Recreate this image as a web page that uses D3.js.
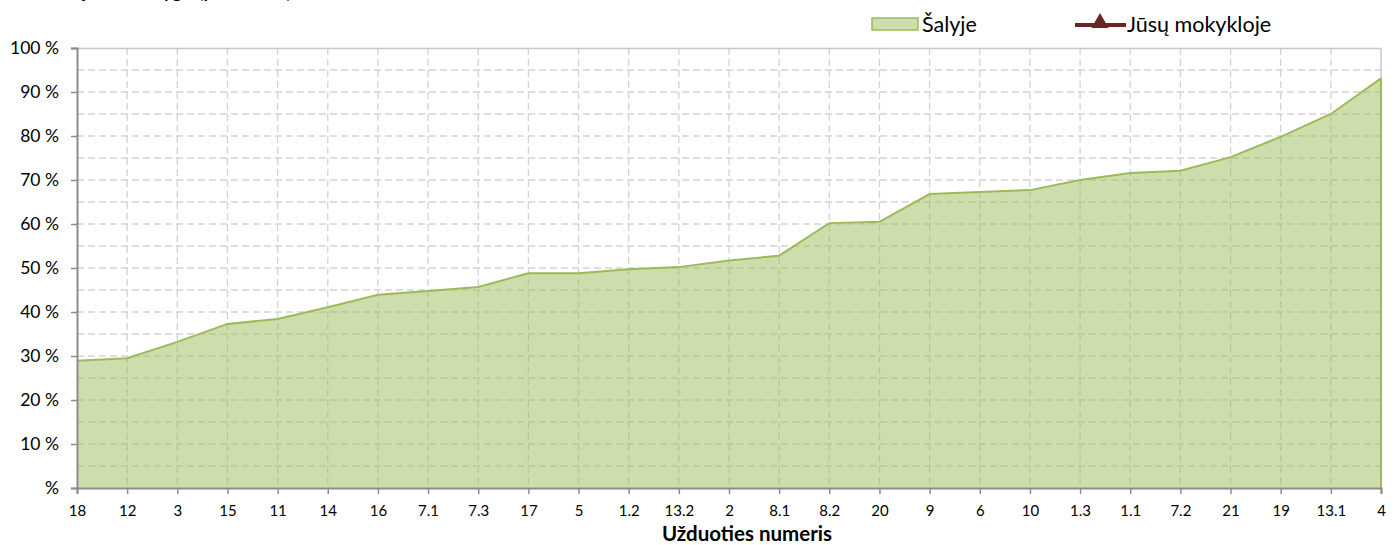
<!DOCTYPE html>
<html>
<head>
<meta charset="utf-8">
<script src="https://cdn.jsdelivr.net/npm/d3@7"></script>
<style>
  body { margin: 0; background: #fff; }
  svg { display: block; font-family: Lato, "Open Sans", sans-serif; }
</style>
</head>
<body>
<svg id="chart" width="1395" height="545"></svg>
<script>
// task numbers, sorted by country result
const categories = ["18", "12", "3", "15", "11", "14", "16", "7.1", "7.3", "17", "5", "1.2", "13.2", "2",
  "8.1", "8.2", "20", "9", "6", "10", "1.3", "1.1", "7.2", "21", "19", "13.1", "4"];
// Šalyje (country), percent
const countryValues = [28.9, 29.5, 33.2, 37.3, 38.4, 41.1, 43.9, 44.8, 45.7, 48.8, 48.8, 49.7, 50.2, 51.7,
  52.8, 60.2, 60.5, 66.8, 67.3, 67.7, 70.0, 71.6, 72.1, 75.2, 79.8, 85.0, 93.1];
// Jūsų mokykloje (your school) - no values in the picture
const schoolValues = [];
const yTicks = [0, 10, 20, 30, 40, 50, 60, 70, 80, 90, 100];
const legendLabels = ["Šalyje", "Jūsų mokykloje"];

const width = 1395, height = 545;
const margin = { top: 48, right: 14, bottom: 57, left: 77 };
const innerW = width - margin.left - margin.right;
const innerH = height - margin.top - margin.bottom;
const font = "Lato, 'Open Sans', sans-serif";

const svg = d3.select("#chart");

// title, mostly cut off above the picture
svg.append("text")
  .attr("x", 10).attr("y", -2)
  .attr("font-size", 18).attr("font-weight", "bold")
  .attr("fill", "#000")
  .text("Užduočių atlikimo lygis (procentais)");

const g = svg.append("g").attr("transform", `translate(${margin.left},${margin.top})`);

const x = d3.scalePoint().domain(categories).range([0, innerW]);
const y = d3.scaleLinear().domain([0, 100]).range([innerH, 0]);

// dashed grid every 5 %
const grid = g.append("g").attr("stroke", "#d3d3d3").attr("stroke-width", 1.3).attr("stroke-dasharray", "7,4");
grid.selectAll("line.h")
  .data(d3.range(5, 100, 5))
  .join("line")
    .attr("class", "h")
    .attr("x1", 0).attr("x2", innerW)
    .attr("y1", d => y(d)).attr("y2", d => y(d));
grid.selectAll("line.v")
  .data(categories.slice(1, -1))
  .join("line")
    .attr("class", "v")
    .attr("x1", d => x(d)).attr("x2", d => x(d))
    .attr("y1", 0).attr("y2", innerH);

// plot border top/right
g.append("path")
  .attr("d", `M0,0.5H${innerW}V${innerH}`)
  .attr("fill", "none").attr("stroke", "#c8c8c8").attr("stroke-width", 1.5);

// area for country
const area = d3.area()
  .x((d, i) => x(categories[i]))
  .y0(innerH)
  .y1(d => y(d));
const line = d3.line()
  .x((d, i) => x(categories[i]))
  .y(d => y(d));

g.append("path")
  .datum(countryValues)
  .attr("d", area)
  .attr("fill", "#9bbb59")
  .attr("fill-opacity", 0.5);
g.append("path")
  .datum(countryValues)
  .attr("d", line)
  .attr("fill", "none")
  .attr("stroke", "#9bbb59")
  .attr("stroke-width", 2);
g.append("line")
  .attr("x1", innerW).attr("x2", innerW)
  .attr("y1", y(countryValues[countryValues.length - 1])).attr("y2", innerH)
  .attr("stroke", "#9bbb59").attr("stroke-width", 2);

// school series (empty)
g.append("path")
  .datum(schoolValues)
  .attr("d", line)
  .attr("fill", "none")
  .attr("stroke", "#6b2525")
  .attr("stroke-width", 3);

// y axis
const yAxis = d3.axisLeft(y).tickValues(yTicks).tickSize(6).tickPadding(12)
  .tickFormat(d => d === 0 ? "%" : `${d} %`);
const yg = g.append("g").call(yAxis).attr("font-family", font);
yg.select(".domain").attr("stroke", "#8c8c8c").attr("stroke-width", 2);
yg.selectAll(".tick line").attr("stroke", "#8c8c8c").attr("stroke-width", 1.5);
yg.selectAll(".tick text").attr("font-size", 17.5).attr("fill", "#000");

// x axis
const xAxis = d3.axisBottom(x).tickSize(6).tickPadding(11);
const xg = g.append("g").attr("transform", `translate(0,${innerH})`).call(xAxis).attr("font-family", font);
xg.select(".domain").attr("stroke", "#8c8c8c").attr("stroke-width", 2);
xg.selectAll(".tick line").attr("stroke", "#8c8c8c").attr("stroke-width", 1.5);
xg.selectAll(".tick text").attr("font-size", 15).attr("fill", "#000");

// x axis title
svg.append("text")
  .attr("x", margin.left + innerW / 2 + 18).attr("y", 541)
  .attr("text-anchor", "middle")
  .attr("font-size", 20.5).attr("font-weight", "bold")
  .text("Užduoties numeris");

// legend
const leg = svg.append("g");
leg.append("rect")
  .attr("x", 872).attr("y", 18).attr("width", 46).attr("height", 12)
  .attr("fill", "#cdddac").attr("stroke", "#9bbb59").attr("stroke-width", 1.5);
leg.append("text")
  .attr("x", 922).attr("y", 32)
  .attr("font-size", 21.5)
  .text(legendLabels[0]);
leg.append("line")
  .attr("x1", 1075).attr("x2", 1126).attr("y1", 25).attr("y2", 25)
  .attr("stroke", "#6b2525").attr("stroke-width", 4);
leg.append("path")
  .attr("d", d3.symbol(d3.symbolTriangle, 130)())
  .attr("transform", "translate(1100,23)")
  .attr("fill", "#6b2525");
leg.append("text")
  .attr("x", 1127).attr("y", 32)
  .attr("font-size", 21.5)
  .text(legendLabels[1]);
</script>
</body>
</html>
